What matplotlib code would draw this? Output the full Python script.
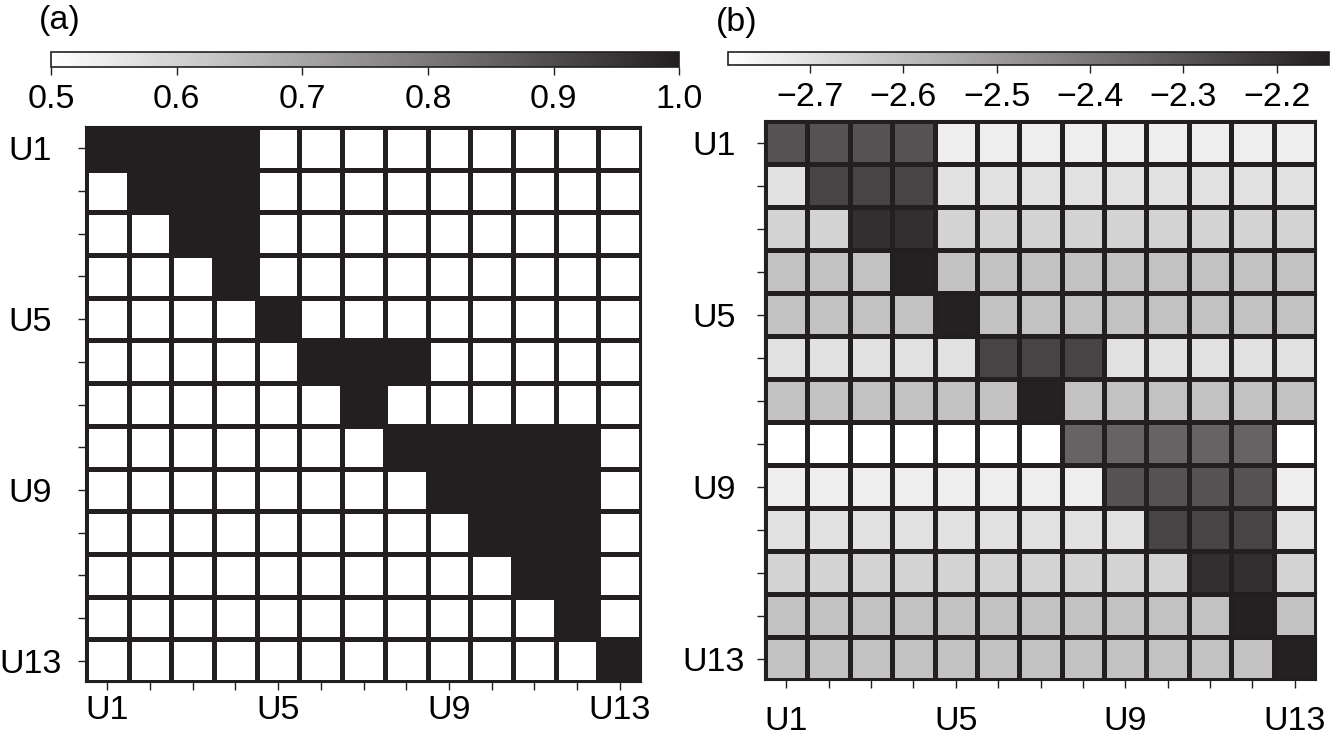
import numpy as np
import matplotlib.pyplot as plt
from matplotlib.colors import LinearSegmentedColormap

plt.rcParams['font.family'] = ['Liberation Sans', 'DejaVu Sans']

units = ['U%d' % i for i in range(1, 14)]
shown_labels = ['U1', 'U5', 'U9', 'U13']

# (a) co-clustering probability (black = 1.0)
prob = [
    [1.0, 1.0, 1.0, 1.0, 0.5, 0.5, 0.5, 0.5, 0.5, 0.5, 0.5, 0.5, 0.5],
    [0.5, 1.0, 1.0, 1.0, 0.5, 0.5, 0.5, 0.5, 0.5, 0.5, 0.5, 0.5, 0.5],
    [0.5, 0.5, 1.0, 1.0, 0.5, 0.5, 0.5, 0.5, 0.5, 0.5, 0.5, 0.5, 0.5],
    [0.5, 0.5, 0.5, 1.0, 0.5, 0.5, 0.5, 0.5, 0.5, 0.5, 0.5, 0.5, 0.5],
    [0.5, 0.5, 0.5, 0.5, 1.0, 0.5, 0.5, 0.5, 0.5, 0.5, 0.5, 0.5, 0.5],
    [0.5, 0.5, 0.5, 0.5, 0.5, 1.0, 1.0, 1.0, 0.5, 0.5, 0.5, 0.5, 0.5],
    [0.5, 0.5, 0.5, 0.5, 0.5, 0.5, 1.0, 0.5, 0.5, 0.5, 0.5, 0.5, 0.5],
    [0.5, 0.5, 0.5, 0.5, 0.5, 0.5, 0.5, 1.0, 1.0, 1.0, 1.0, 1.0, 0.5],
    [0.5, 0.5, 0.5, 0.5, 0.5, 0.5, 0.5, 0.5, 1.0, 1.0, 1.0, 1.0, 0.5],
    [0.5, 0.5, 0.5, 0.5, 0.5, 0.5, 0.5, 0.5, 0.5, 1.0, 1.0, 1.0, 0.5],
    [0.5, 0.5, 0.5, 0.5, 0.5, 0.5, 0.5, 0.5, 0.5, 0.5, 1.0, 1.0, 0.5],
    [0.5, 0.5, 0.5, 0.5, 0.5, 0.5, 0.5, 0.5, 0.5, 0.5, 0.5, 1.0, 0.5],
    [0.5, 0.5, 0.5, 0.5, 0.5, 0.5, 0.5, 0.5, 0.5, 0.5, 0.5, 0.5, 1.0],
]

# (b) log scores
score = [
    [-2.29, -2.29, -2.29, -2.29, -2.74, -2.74, -2.74, -2.74, -2.74, -2.74, -2.74, -2.74, -2.74],
    [-2.70, -2.25, -2.25, -2.25, -2.70, -2.70, -2.70, -2.70, -2.70, -2.70, -2.70, -2.70, -2.70],
    [-2.66, -2.66, -2.19, -2.19, -2.66, -2.66, -2.66, -2.66, -2.66, -2.66, -2.66, -2.66, -2.66],
    [-2.61, -2.61, -2.61, -2.15, -2.61, -2.61, -2.61, -2.61, -2.61, -2.61, -2.61, -2.61, -2.61],
    [-2.61, -2.61, -2.61, -2.61, -2.15, -2.61, -2.61, -2.61, -2.61, -2.61, -2.61, -2.61, -2.61],
    [-2.70, -2.70, -2.70, -2.70, -2.70, -2.25, -2.25, -2.25, -2.70, -2.70, -2.70, -2.70, -2.70],
    [-2.61, -2.61, -2.61, -2.61, -2.61, -2.61, -2.15, -2.61, -2.61, -2.61, -2.61, -2.61, -2.61],
    [-2.79, -2.79, -2.79, -2.79, -2.79, -2.79, -2.79, -2.34, -2.34, -2.34, -2.34, -2.34, -2.79],
    [-2.74, -2.74, -2.74, -2.74, -2.74, -2.74, -2.74, -2.74, -2.29, -2.29, -2.29, -2.29, -2.74],
    [-2.70, -2.70, -2.70, -2.70, -2.70, -2.70, -2.70, -2.70, -2.70, -2.25, -2.25, -2.25, -2.70],
    [-2.66, -2.66, -2.66, -2.66, -2.66, -2.66, -2.66, -2.66, -2.66, -2.66, -2.19, -2.19, -2.66],
    [-2.61, -2.61, -2.61, -2.61, -2.61, -2.61, -2.61, -2.61, -2.61, -2.61, -2.61, -2.15, -2.61],
    [-2.61, -2.61, -2.61, -2.61, -2.61, -2.61, -2.61, -2.61, -2.61, -2.61, -2.61, -2.61, -2.15],
]

cbar_a_ticks = [0.5, 0.6, 0.7, 0.8, 0.9, 1.0]
cbar_b_ticks = [-2.7, -2.6, -2.5, -2.4, -2.3, -2.2]

ink = '#231f20'
cmap = LinearSegmentedColormap.from_list('grey_ink', ['#ffffff', ink])
fs = 24.5

fig = plt.figure(figsize=(13.34, 7.41), dpi=100)


def heat(rect, cbar_rect, data, vmin, vmax, ticks, tag, tag_xy, ypad, xpad):
    ax = fig.add_axes(rect)
    data = np.array(data)
    n = data.shape[0]
    m = ax.pcolormesh(np.arange(n + 1), np.arange(n + 1), data, cmap=cmap,
                      vmin=vmin, vmax=vmax, edgecolors=ink, linewidth=2.2)
    ax.set_xlim(0, n)
    ax.set_ylim(n, 0)
    ax.set_xticks(np.arange(n) + 0.5)
    ax.set_yticks(np.arange(n) + 0.5)
    ax.set_xticklabels([u if u in shown_labels else '' for u in units])
    ax.set_yticklabels([u if u in shown_labels else '' for u in units], ha='center')
    ax.tick_params(length=6, width=1, color=ink, labelsize=fs)
    ax.tick_params(axis='y', pad=ypad)
    ax.tick_params(axis='x', pad=xpad)
    for s in ax.spines.values():
        s.set_color(ink)
        s.set_linewidth(1.5)

    cax = fig.add_axes(cbar_rect)
    cb = fig.colorbar(m, cax=cax, orientation='horizontal', ticks=ticks)
    cb.ax.set_xticklabels([('%.1f' % t).replace('-', '\u2212') for t in ticks])
    cb.ax.tick_params(length=6, width=1, color=ink, labelsize=fs, pad=6)
    cb.outline.set_edgecolor(ink)
    cb.outline.set_linewidth(1.2)
    fig.text(tag_xy[0], tag_xy[1], tag, fontsize=fs, ha='left', va='center')
    return ax


heat([0.0645, 0.0796, 0.416, 0.749], [0.0382, 0.9096, 0.471, 0.0202],
     prob, 0.5, 1.0, cbar_a_ticks, '(a)', (0.029, 0.972), 34, 3)
heat([0.5735, 0.0823, 0.413, 0.7544], [0.5457, 0.912, 0.4505, 0.0178],
     score, -2.788, -2.144, cbar_b_ticks, '(b)', (0.537, 0.970), 31, 13)

fig.savefig('out.png', dpi=100)
